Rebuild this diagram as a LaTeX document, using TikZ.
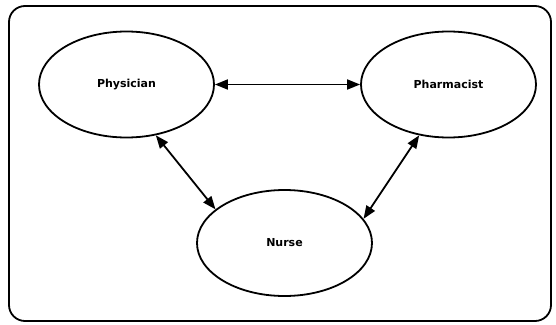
\documentclass[tikz,border=0pt]{standalone}
\usepackage{fontspec}
\setmainfont{DejaVu Sans}
\usetikzlibrary{shapes.geometric,arrows.meta}
\begin{document}
\begin{tikzpicture}[x=1pt,y=-1pt,
  role/.style={ellipse,draw,line width=1.8pt,minimum width=175pt,minimum height=106pt,inner sep=0pt,
    font=\fontsize{11}{13}\selectfont\bfseries},
  link/.style={line width=1.8pt,{Triangle[length=13pt,width=10pt]}-{Triangle[length=13pt,width=10pt]}}]
\useasboundingbox (0,0) rectangle (556,324);
\draw[line width=1.8pt,rounded corners=16pt] (9,6) rectangle (551,321);
\node[role] (phys) at (126.5,84.5) {Physician};
\node[role] (pharm) at (448.5,84.5) {Pharmacist};
\node[role] (nurse) at (284.5,243) {Nurse};
\draw[link] (phys.east) -- (pharm.west);
\draw[link] (phys.-60) -- (nurse.154.6);
\draw[link] (pharm.-120.6) -- (nurse.17.3);
\end{tikzpicture}
\end{document}
